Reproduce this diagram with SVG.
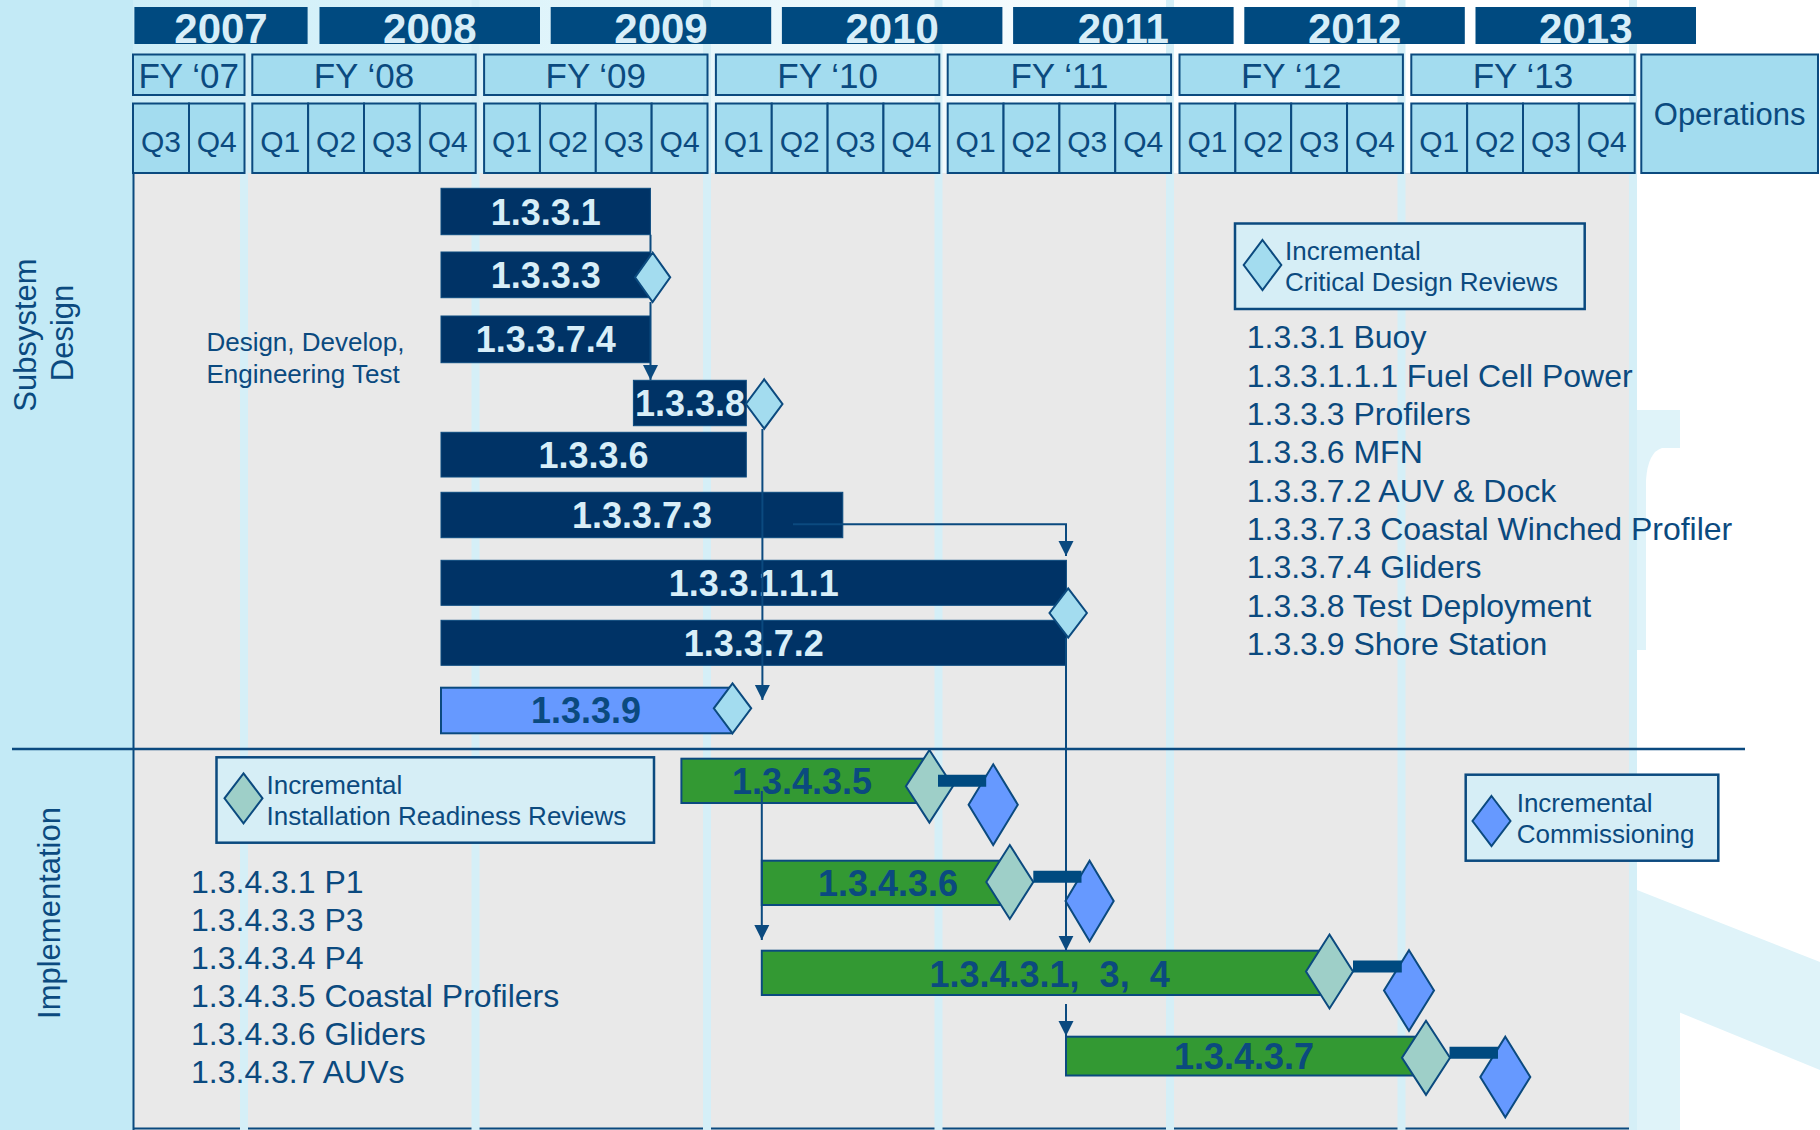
<svg xmlns="http://www.w3.org/2000/svg" width="1820" height="1130" viewBox="0 0 1820 1130">
<defs>
<style>
text{font-family:"Liberation Sans",Arial,Helvetica,sans-serif;fill:#0b4a7f}
.yr{font-weight:bold;font-size:42px;fill:#d8eef8;text-anchor:middle}
.fy{font-size:35px;text-anchor:middle}
.q{font-size:30px;text-anchor:middle}
.box{fill:#a3dcef;stroke:#0b4a7f;stroke-width:2}
.ybar{fill:#004a80}
.dbar{fill:#003366;stroke:#0b4a7f;stroke-width:1}
.gbar{fill:#339933;stroke:#0b4a7f;stroke-width:2}
.bbar{fill:#6699ff;stroke:#0b4a7f;stroke-width:2}
.bl{font-weight:bold;font-size:36px;text-anchor:middle}
.lt{fill:#d8eef8}
.cdr{fill:#a3dcef;stroke:#0b4a7f;stroke-width:2}
.irr{fill:#9ecfc8;stroke:#0b4a7f;stroke-width:2}
.com{fill:#6699ff;stroke:#0b4a7f;stroke-width:2}
.leg{fill:#d6eef6;stroke:#0b4a7f;stroke-width:2.5}
.lg{font-size:26px}
.ls{font-size:32px}
.sec{font-size:31px;text-anchor:middle}
.conn{fill:none;stroke:#0b4a7f;stroke-width:2}
.thick{fill:none;stroke:#004a80;stroke-width:12}
.stripe{fill:#d5eff7}
.wm{fill:#dff3f9}
</style>
<linearGradient id="hdr" x1="0" y1="0" x2="1" y2="0">
<stop offset="0" stop-color="#cdeef8"/>
<stop offset="0.75" stop-color="#ffffff"/>
<stop offset="1" stop-color="#ffffff"/>
</linearGradient>
<marker id="arr" viewBox="0 0 15 16" markerWidth="15" markerHeight="16" refX="15" refY="8" orient="auto" markerUnits="userSpaceOnUse">
<path d="M0,0.5 L15,8 L0,15.5 Z" fill="#0b4a7f"/>
</marker>
</defs>

<g id="background">
<rect x="0" y="0" width="1820" height="1130" fill="#ffffff"/>
<rect x="0" y="0" width="133" height="1130" fill="#c3eaf6"/>
<rect x="133" y="0" width="1504" height="173" fill="url(#hdr)"/>
<rect x="133" y="173" width="1496" height="957" fill="#e9e9e9"/>
<path class="wm" d="M1637,410 H1680 V448 H1662 Q1648,452 1646,480 V650 H1637 Z"/>
<path class="wm" d="M1637,890 L1820,962 L1820,1070 L1637,995 Z"/>
<rect class="wm" x="1637" y="995" width="43" height="135"/>
<line x1="133" y1="1128.5" x2="1629" y2="1128.5" stroke="#0b4a7f" stroke-width="2"/>
<rect class="stripe" x="240" y="0" width="8" height="1130"/>
<rect class="stripe" x="471.5" y="0" width="8" height="1130"/>
<rect class="stripe" x="703" y="0" width="8" height="1130"/>
<rect class="stripe" x="934.5" y="0" width="8" height="1130"/>
<rect class="stripe" x="1166" y="0" width="8" height="1130"/>
<rect class="stripe" x="1397.5" y="0" width="8" height="1130"/>
<rect class="stripe" x="1629" y="0" width="8" height="1130"/>
<line x1="133.5" y1="173" x2="133.5" y2="1130" stroke="#0b4a7f" stroke-width="2"/>
<line x1="12" y1="749" x2="1745" y2="749" stroke="#0b4a7f" stroke-width="2.5"/>
</g>

<g id="header">
<rect class="ybar" x="134.4" y="7" width="173.2" height="37"/>
<rect class="ybar" x="319.5" y="7" width="220.5" height="37"/>
<rect class="ybar" x="550.7" y="7" width="220.5" height="37"/>
<rect class="ybar" x="781.9" y="7" width="220.5" height="37"/>
<rect class="ybar" x="1013.1" y="7" width="220.5" height="37"/>
<rect class="ybar" x="1244.3" y="7" width="220.5" height="37"/>
<rect class="ybar" x="1475.5" y="7" width="220.5" height="37"/>
<text class="yr" x="221" y="42.5">2007</text>
<text class="yr" x="429.8" y="42.5">2008</text>
<text class="yr" x="661" y="42.5">2009</text>
<text class="yr" x="892.2" y="42.5">2010</text>
<text class="yr" x="1123.4" y="42.5">2011</text>
<text class="yr" x="1354.6" y="42.5">2012</text>
<text class="yr" x="1585.8" y="42.5">2013</text>

<rect class="box" x="133" y="54.5" width="111.5" height="40.5"/>
<rect class="box" x="252.3" y="54.5" width="223.4" height="40.5"/>
<rect class="box" x="484.1" y="54.5" width="223.4" height="40.5"/>
<rect class="box" x="715.9" y="54.5" width="223.4" height="40.5"/>
<rect class="box" x="947.7" y="54.5" width="223.4" height="40.5"/>
<rect class="box" x="1179.5" y="54.5" width="223.4" height="40.5"/>
<rect class="box" x="1411.3" y="54.5" width="223.4" height="40.5"/>
<text class="fy" x="188.7" y="87.5">FY ‘07</text>
<text class="fy" x="364" y="87.5">FY ‘08</text>
<text class="fy" x="595.8" y="87.5">FY ‘09</text>
<text class="fy" x="827.6" y="87.5">FY ‘10</text>
<text class="fy" x="1059.4" y="87.5">FY ‘11</text>
<text class="fy" x="1291.2" y="87.5">FY ‘12</text>
<text class="fy" x="1523" y="87.5">FY ‘13</text>

<rect class="box" x="133" y="103.5" width="56" height="69.5"/>
<rect class="box" x="189" y="103.5" width="55.5" height="69.5"/>
<text class="q" x="161" y="152">Q3</text>
<text class="q" x="216.8" y="152">Q4</text>

<rect class="box" x="252.3" y="103.5" width="55.85" height="69.5"/>
<rect class="box" x="308.15" y="103.5" width="55.85" height="69.5"/>
<rect class="box" x="364" y="103.5" width="55.85" height="69.5"/>
<rect class="box" x="419.85" y="103.5" width="55.85" height="69.5"/>
<text class="q" x="280.2" y="152">Q1</text>
<text class="q" x="336.1" y="152">Q2</text>
<text class="q" x="391.9" y="152">Q3</text>
<text class="q" x="447.8" y="152">Q4</text>

<rect class="box" x="484.1" y="103.5" width="55.85" height="69.5"/>
<rect class="box" x="539.95" y="103.5" width="55.85" height="69.5"/>
<rect class="box" x="595.8" y="103.5" width="55.85" height="69.5"/>
<rect class="box" x="651.65" y="103.5" width="55.85" height="69.5"/>
<text class="q" x="512" y="152">Q1</text>
<text class="q" x="567.9" y="152">Q2</text>
<text class="q" x="623.7" y="152">Q3</text>
<text class="q" x="679.6" y="152">Q4</text>

<rect class="box" x="715.9" y="103.5" width="55.85" height="69.5"/>
<rect class="box" x="771.75" y="103.5" width="55.85" height="69.5"/>
<rect class="box" x="827.6" y="103.5" width="55.85" height="69.5"/>
<rect class="box" x="883.45" y="103.5" width="55.85" height="69.5"/>
<text class="q" x="743.8" y="152">Q1</text>
<text class="q" x="799.7" y="152">Q2</text>
<text class="q" x="855.5" y="152">Q3</text>
<text class="q" x="911.4" y="152">Q4</text>

<rect class="box" x="947.7" y="103.5" width="55.85" height="69.5"/>
<rect class="box" x="1003.55" y="103.5" width="55.85" height="69.5"/>
<rect class="box" x="1059.4" y="103.5" width="55.85" height="69.5"/>
<rect class="box" x="1115.25" y="103.5" width="55.85" height="69.5"/>
<text class="q" x="975.6" y="152">Q1</text>
<text class="q" x="1031.5" y="152">Q2</text>
<text class="q" x="1087.3" y="152">Q3</text>
<text class="q" x="1143.2" y="152">Q4</text>

<rect class="box" x="1179.5" y="103.5" width="55.85" height="69.5"/>
<rect class="box" x="1235.35" y="103.5" width="55.85" height="69.5"/>
<rect class="box" x="1291.2" y="103.5" width="55.85" height="69.5"/>
<rect class="box" x="1347.05" y="103.5" width="55.85" height="69.5"/>
<text class="q" x="1207.4" y="152">Q1</text>
<text class="q" x="1263.3" y="152">Q2</text>
<text class="q" x="1319.1" y="152">Q3</text>
<text class="q" x="1375" y="152">Q4</text>

<rect class="box" x="1411.3" y="103.5" width="55.85" height="69.5"/>
<rect class="box" x="1467.15" y="103.5" width="55.85" height="69.5"/>
<rect class="box" x="1523" y="103.5" width="55.85" height="69.5"/>
<rect class="box" x="1578.85" y="103.5" width="55.85" height="69.5"/>
<text class="q" x="1439.2" y="152">Q1</text>
<text class="q" x="1495.1" y="152">Q2</text>
<text class="q" x="1550.9" y="152">Q3</text>
<text class="q" x="1606.8" y="152">Q4</text>

<g id="operations">
<rect class="box" x="1641.3" y="54.5" width="176.7" height="118.5"/>
<text x="1729.6" y="125" font-size="31" text-anchor="middle">Operations</text>
</g>
</g>

<g id="section-labels">
<text class="sec" transform="translate(36,335) rotate(-90)">Subsystem</text>
<text class="sec" transform="translate(73,333) rotate(-90)">Design</text>
<text class="sec" transform="translate(60,913) rotate(-90)">Implementation</text>
<text class="lg" x="206.4" y="350.5">Design, Develop,</text>
<text class="lg" x="206.4" y="382.5">Engineering Test</text>
</g>

<g id="legend-cdr">
<rect class="leg" x="1235" y="223.5" width="349.7" height="85.5"/>
<polygon class="cdr" points="1262.5,240 1281.3,265 1262.5,290 1243.7,265"/>
<text class="lg" x="1285" y="260">Incremental</text>
<text class="lg" x="1285" y="290.5">Critical Design Reviews</text>
</g>
<g id="list-cdr">
<text class="ls" x="1246.7" y="348.3">1.3.3.1 Buoy</text>
<text class="ls" x="1246.7" y="386.6">1.3.3.1.1.1 Fuel Cell Power</text>
<text class="ls" x="1246.7" y="425">1.3.3.3 Profilers</text>
<text class="ls" x="1246.7" y="463.3">1.3.3.6 MFN</text>
<text class="ls" x="1246.7" y="501.6">1.3.3.7.2 AUV &amp; Dock</text>
<text class="ls" x="1246.7" y="540">1.3.3.7.3 Coastal Winched Profiler</text>
<text class="ls" x="1246.7" y="578.3">1.3.3.7.4 Gliders</text>
<text class="ls" x="1246.7" y="616.6">1.3.3.8 Test Deployment</text>
<text class="ls" x="1246.7" y="655">1.3.3.9 Shore Station</text>
</g>

<g id="legend-irr">
<rect class="leg" x="216.5" y="757.3" width="437.5" height="85.4"/>
<polygon class="irr" points="243.5,773.3 262.5,798.3 243.5,823.3 224.5,798.3"/>
<text class="lg" x="266.5" y="793.5">Incremental</text>
<text class="lg" x="266.5" y="825">Installation Readiness Reviews</text>
</g>
<g id="list-impl">
<text class="ls" x="191" y="892.7">1.3.4.3.1 P1</text>
<text class="ls" x="191" y="930.7">1.3.4.3.3 P3</text>
<text class="ls" x="191" y="968.7">1.3.4.3.4 P4</text>
<text class="ls" x="191" y="1006.7">1.3.4.3.5 Coastal Profilers</text>
<text class="ls" x="191" y="1044.7">1.3.4.3.6 Gliders</text>
<text class="ls" x="191" y="1082.7">1.3.4.3.7 AUVs</text>
</g>

<g id="legend-commissioning">
<rect class="leg" x="1465.7" y="774.7" width="252.6" height="86"/>
<polygon class="com" points="1491.5,796 1510.5,821 1491.5,846 1472.5,821"/>
<text class="lg" x="1516.7" y="811.7">Incremental</text>
<text class="lg" x="1516.7" y="843.3">Commissioning</text>
</g>

<g id="nodes">
<g id="n1331">
<rect class="dbar" x="441" y="188.3" width="209.4" height="46.4"/>
<text class="bl lt" x="545.7" y="224.5">1.3.3.1</text>
</g>
<g id="n1333">
<rect class="dbar" x="441" y="252" width="209.4" height="45.7"/>
<text class="bl lt" x="545.7" y="287.5">1.3.3.3</text>
<polygon class="cdr" points="652.6,252.6 670.2,277.3 652.6,302 635,277.3"/>
</g>
<g id="n13374">
<rect class="dbar" x="441" y="316" width="209.4" height="46.7"/>
<text class="bl lt" x="545.7" y="352">1.3.3.7.4</text>
</g>
<g id="n1338">
<rect class="dbar" x="633.4" y="380.3" width="112.9" height="45.4"/>
<text class="bl lt" x="690" y="416">1.3.3.8</text>
<polygon class="cdr" points="764.2,379.3 782.5,404 764.2,428.7 745.9,404"/>
</g>
<g id="n1336">
<rect class="dbar" x="441" y="432.3" width="305.3" height="44.7"/>
<text class="bl lt" x="593.6" y="467.5">1.3.3.6</text>
</g>
<g id="n13373">
<rect class="dbar" x="441" y="492.3" width="401.8" height="45.4"/>
<text class="bl lt" x="642" y="528">1.3.3.7.3</text>
</g>
<g id="n13372">
<rect class="dbar" x="441" y="620.3" width="625.4" height="45"/>
<text class="bl lt" x="753.7" y="656">1.3.3.7.2</text>
</g>
<g id="n133111">
<rect class="dbar" x="441" y="560.3" width="625.4" height="45"/>
<text class="bl lt" x="753.7" y="596">1.3.3.1.1.1</text>
<polygon class="cdr" points="1068.2,588.3 1086.9,613 1068.2,637.7 1049.5,613"/>
</g>
<g id="n1339">
<rect class="bbar" x="441" y="687.7" width="291" height="45.6"/>
<text class="bl" x="586" y="723">1.3.3.9</text>
<polygon class="cdr" points="732.5,683.3 751.2,708.3 732.5,733.3 713.8,708.3"/>
</g>
<g id="n13435">
<rect class="gbar" x="681.4" y="758.7" width="248" height="44.3"/>
<text class="bl" x="802" y="794">1.3.4.3.5</text>
<polygon class="irr" points="929.4,750 952.9,786.3 929.4,822.6 905.9,786.3"/>
<polygon class="com" points="993.2,764.3 1017.8,804.7 993.2,845.1 968.6,804.7"/>
</g>
<g id="n13436">
<rect class="gbar" x="761.8" y="860.7" width="248" height="44.3"/>
<text class="bl" x="888" y="896">1.3.4.3.6</text>
<polygon class="irr" points="1009.8,845 1033.3,882 1009.8,919 986.3,882"/>
<polygon class="com" points="1089.6,860.7 1113.7,901 1089.6,941.3 1065.5,901"/>
</g>
<g id="n134314">
<rect class="gbar" x="761.8" y="950.7" width="567.7" height="44.3"/>
<text class="bl" x="1049.6" y="987" xml:space="preserve">1.3.4.3.1,  3,  4</text>
<polygon class="irr" points="1329.5,934.5 1353,971.5 1329.5,1008.5 1306,971.5"/>
<polygon class="com" points="1409,950.2 1434,990.5 1409,1030.8 1384,990.5"/>
</g>
<g id="n13437">
<rect class="gbar" x="1066" y="1036.7" width="360" height="38.8"/>
<text class="bl" x="1244" y="1068.5">1.3.4.3.7</text>
<polygon class="irr" points="1426,1020.8 1450,1057.8 1426,1094.8 1402,1057.8"/>
<polygon class="com" points="1505.3,1036.7 1530.3,1077 1505.3,1117.3 1480.3,1077"/>
</g>
</g>

<g id="connectors">
<path class="conn" d="M650.5,234.7 V252 M650.5,302 V380" marker-end="url(#arr)"/>
<path class="conn" d="M762.4,429 V700" marker-end="url(#arr)"/>
<path class="conn" d="M793,524.3 H1066 V556" marker-end="url(#arr)"/>
<path class="conn" d="M1066,638 V950.7" marker-end="url(#arr)"/>
<path class="conn" d="M761.8,791 V940" marker-end="url(#arr)"/>
<path class="conn" d="M1066,1004 V1036" marker-end="url(#arr)"/>
<path class="thick" d="M938,780.8 H986.2"/>
<path class="thick" d="M1033.3,876.8 H1081.5"/>
<path class="thick" d="M1353,966.5 H1401.8"/>
<path class="thick" d="M1449.5,1052.8 H1498"/>
</g>
</svg>
